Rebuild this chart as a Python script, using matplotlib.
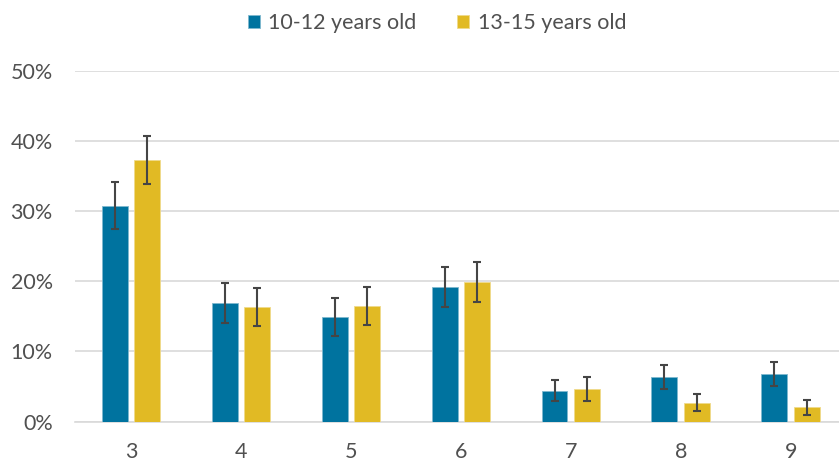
import matplotlib
matplotlib.use("Agg")
import matplotlib.pyplot as plt
import numpy as np

categories = ["3", "4", "5", "6", "7", "8", "9"]
series_names = ["10-12 years old", "13-15 years old"]
values_10_12 = [30.8, 16.9, 14.9, 19.2, 4.4, 6.4, 6.8]
values_13_15 = [37.3, 16.3, 16.5, 19.9, 4.6, 2.7, 2.0]
err_10_12 = [3.3, 2.8, 2.65, 2.85, 1.5, 1.7, 1.7]
err_13_15 = [3.4, 2.7, 2.7, 2.85, 1.7, 1.2, 1.05]
y_ticks = [0, 10, 20, 30, 40, 50]

colors = ["#00739F", "#E1BA24"]
text_color = "#505050"
grid_color = "#D9D9D9"

plt.rcParams["font.family"] = ["Lato", "DejaVu Sans"]

fig = plt.figure(figsize=(8.39, 4.63), dpi=100)
ax = fig.add_axes([75 / 839, (463 - 421.5) / 463, 1 - 75 / 839, (421.5 - 71) / 463])

x = np.arange(len(categories))
w = 0.236
off = 0.148
err_kw = dict(ecolor="#454545", elinewidth=1.5, capsize=3.2, capthick=1.5)
ax.bar(x - off, values_10_12, w, color=colors[0], edgecolor="#7FB8CF", linewidth=0.6,
       yerr=err_10_12, error_kw=err_kw, label=series_names[0], zorder=3)
ax.bar(x + off, values_13_15, w, color=colors[1], edgecolor="#F0DA8C", linewidth=0.6,
       yerr=err_13_15, error_kw=err_kw, label=series_names[1], zorder=3)

ax.set_xlim(-0.51, 6.44)
ax.set_ylim(0, 50)
ax.set_yticks(y_ticks)
ax.set_yticklabels([f"{t}%" for t in y_ticks])
ax.set_xticks(x)
ax.set_xticklabels(categories)
ax.tick_params(axis="both", length=0, colors=text_color, labelsize=15.5)
ax.tick_params(axis="y", pad=16)
ax.tick_params(axis="x", pad=15)
ax.grid(axis="y", color=grid_color, linewidth=1.2, zorder=0)
ax.set_axisbelow(True)
for s in ["top", "right", "left"]:
    ax.spines[s].set_visible(False)
ax.spines["bottom"].set_color(grid_color)
ax.spines["bottom"].set_linewidth(1.2)
ax.spines["bottom"].set_zorder(1)

leg = fig.legend(loc="center", bbox_to_anchor=(0.521, 1 - 23 / 463), ncol=2, frameon=False,
                 fontsize=15.5, handlelength=0.55, handleheight=0.55, handletextpad=0.4,
                 columnspacing=1.9, borderpad=0)
for t in leg.get_texts():
    t.set_color(text_color)

fig.savefig("out.png", dpi=100)
